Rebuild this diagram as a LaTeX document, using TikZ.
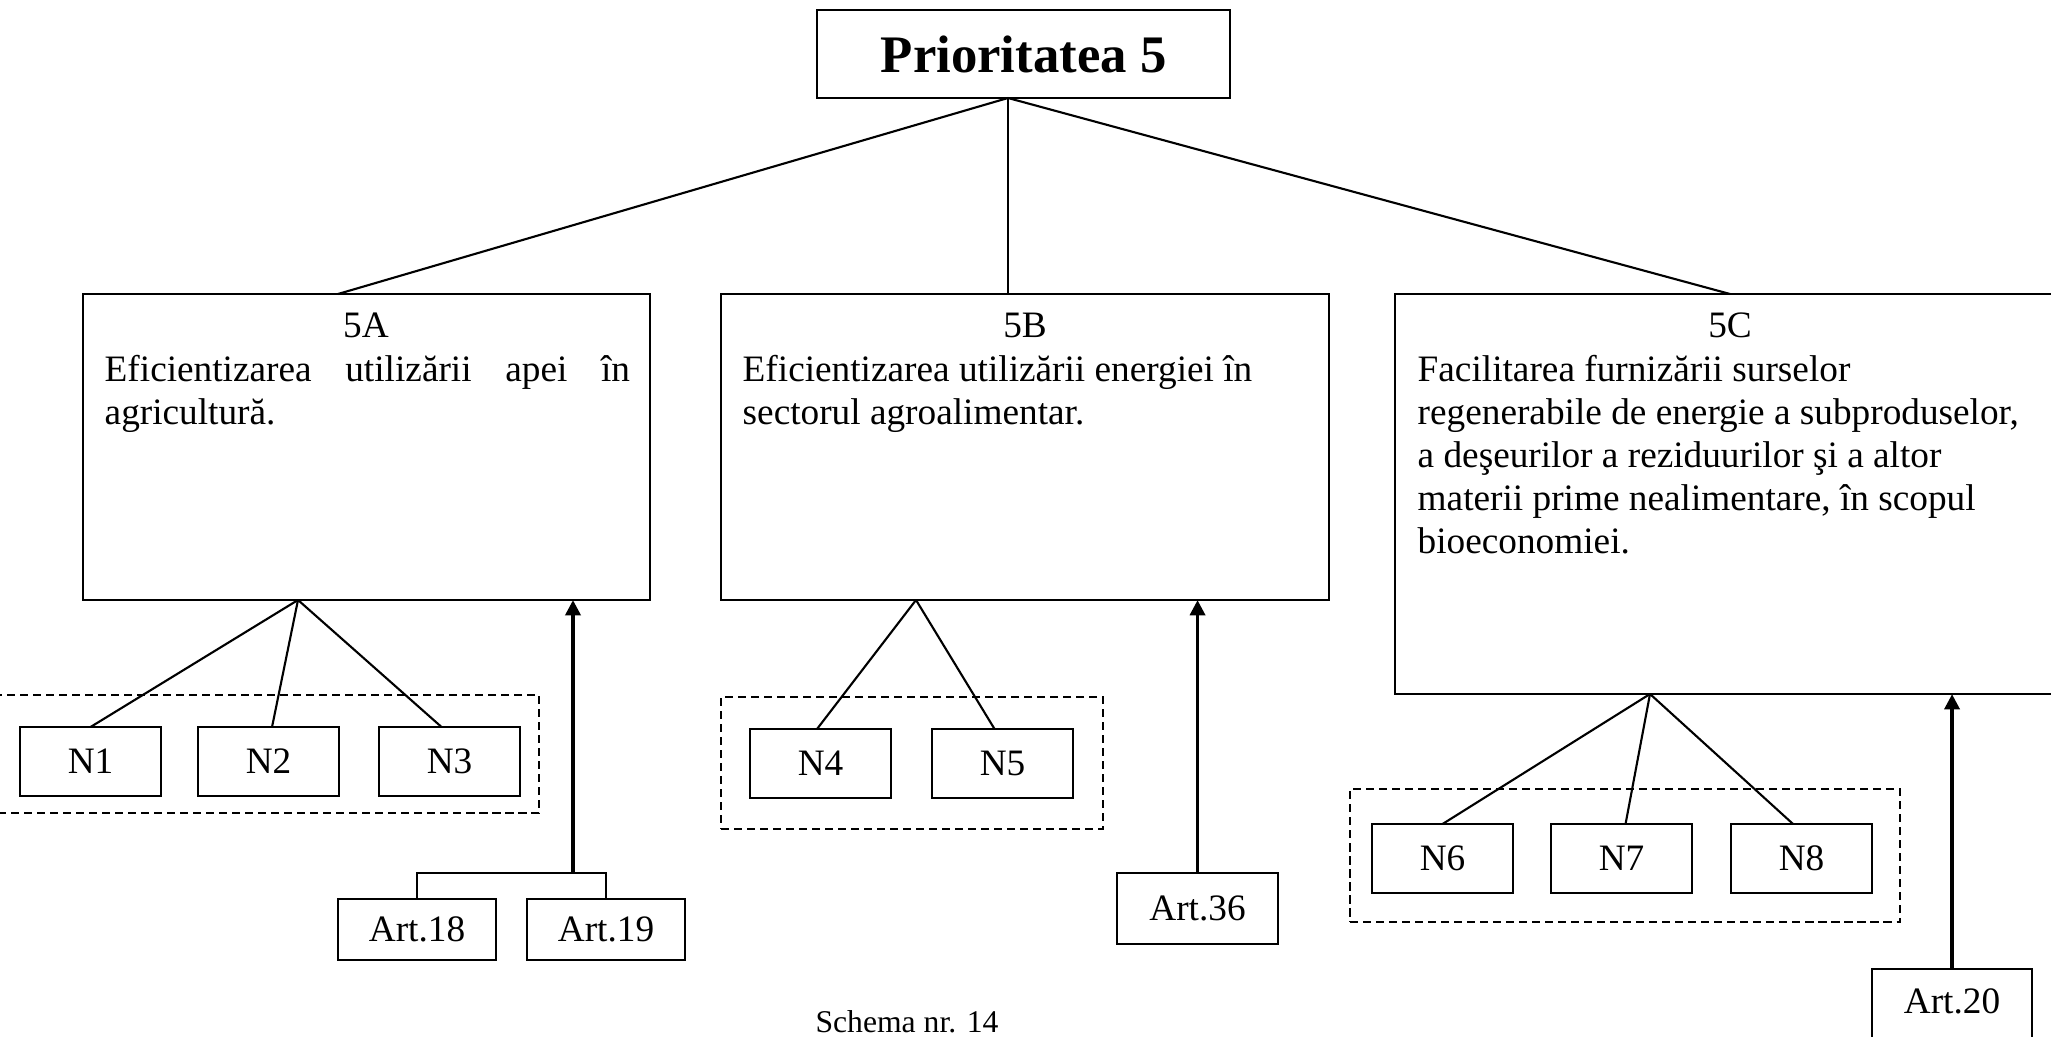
\documentclass[tikz,border=0pt]{standalone}
\usepackage{fontspec}
\setmainfont{Liberation Serif}
\usetikzlibrary{arrows.meta}
\begin{document}
\begin{tikzpicture}[x=0.01cm,y=-0.01cm,
  box/.style={draw,line width=0.6pt,inner sep=0pt,outer sep=0pt,anchor=north west},
  small/.style={box,font=\fontsize{10.6}{12.2}\selectfont},
  grp/.style={draw,dash pattern=on 2.3pt off 1.4pt,line width=0.6pt,inner sep=0pt,outer sep=0pt,anchor=north west},
  tree/.style={line width=0.6pt},
  up/.style={line width=0.9pt,-{Triangle[length=4.3pt,width=4.3pt]}},
  txt/.style={inner sep=0pt,anchor=base west,font=\fontsize{10.6}{12.2}\selectfont},
  ttl/.style={inner sep=0pt,anchor=base,font=\fontsize{10.6}{12.2}\selectfont}]
\useasboundingbox (0,0) rectangle (2051,1037);
\clip (0,0) rectangle (2051,1037);
\fill[white] (0,0) rectangle (2051,1037);

% top
\node[box,minimum width=4.13cm,minimum height=0.88cm,font=\bfseries\fontsize{15}{18}\selectfont] (P) at (817,10) {Prioritatea 5};
\coordinate (Proot) at (1008,98);

% main boxes
\node[box,minimum width=5.67cm,minimum height=3.06cm] (A) at (83,294) {};
\node[box,minimum width=6.08cm,minimum height=3.06cm] (B) at (721,294) {};
\node[box,minimum width=6.70cm,minimum height=4.00cm] (C) at (1395,294) {};

\coordinate (Atop) at (338,294);
\coordinate (Btop) at (1008,294);
\coordinate (Ctop) at (1730,294);
\draw[tree] (Proot) -- (Atop);
\draw[tree] (Proot) -- (Btop);
\draw[tree] (Proot) -- (Ctop);

\node[ttl] (At) at (366,338) {5A};
\node[ttl] (Bt) at (1025,338) {5B};
\node[ttl] (Ct) at (1730,338) {5C};

\node[txt] (Ax) at (104,382) {\vtop{\hbox to 5.25cm{Eficientizarea\hfill utilizării\hfill apei\hfill în}\hbox{agricultură.}}};
\node[txt] (Bx) at (742,382) {\vtop{\hbox{Eficientizarea utilizării energiei în}\hbox{sectorul agroalimentar.}}};
\node[txt] (Cx) at (1417,382) {\vtop{\hbox{Facilitarea furnizării surselor}\hbox{regenerabile de energie a subproduselor,}\hbox{a deşeurilor a reziduurilor şi a altor}\hbox{materii prime nealimentare, în scopul}\hbox{bioeconomiei.}}};

% groups
\node[grp,minimum width=5.41cm,minimum height=1.18cm] (GA) at (-2,695) {};
\node[grp,minimum width=3.82cm,minimum height=1.32cm] (GB) at (721,697) {};
\node[grp,minimum width=5.50cm,minimum height=1.33cm] (GC) at (1350,789) {};

% N boxes
\node[small,minimum width=1.41cm,minimum height=0.69cm] (N1) at (20,727) {N1};
\node[small,minimum width=1.41cm,minimum height=0.69cm] (N2) at (198,727) {N2};
\node[small,minimum width=1.41cm,minimum height=0.69cm] (N3) at (379,727) {N3};
\node[small,minimum width=1.41cm,minimum height=0.69cm] (N4) at (750,729) {N4};
\node[small,minimum width=1.41cm,minimum height=0.69cm] (N5) at (932,729) {N5};
\node[small,minimum width=1.41cm,minimum height=0.69cm] (N6) at (1372,824) {N6};
\node[small,minimum width=1.41cm,minimum height=0.69cm] (N7) at (1551,824) {N7};
\node[small,minimum width=1.41cm,minimum height=0.69cm] (N8) at (1731,824) {N8};

\coordinate (Ar) at (298,600);
\coordinate (Br) at (916,600);
\coordinate (Cr) at (1650,694);
\draw[tree] (Ar) -- (N1.north);
\draw[tree] (Ar) -- ([xshift=0.035cm]N2.north);
\draw[tree] (Ar) -- ([xshift=-0.08cm]N3.north);
\draw[tree] (Br) -- ([xshift=-0.035cm]N4.north);
\draw[tree] (Br) -- ([xshift=-0.08cm]N5.north);
\draw[tree] (Cr) -- (N6.north);
\draw[tree] (Cr) -- ([xshift=0.04cm]N7.north);
\draw[tree] (Cr) -- ([xshift=-0.085cm]N8.north);

% articles
\node[small,minimum width=1.58cm,minimum height=0.61cm] (Art18) at (338,899) {Art.18};
\node[small,minimum width=1.58cm,minimum height=0.61cm] (Art19) at (527,899) {Art.19};
\node[small,minimum width=1.61cm,minimum height=0.71cm] (Art36) at (1117,873) {Art.36};
\node[small,minimum width=1.60cm,minimum height=0.71cm,anchor=north west] (Art20) at (1872,969) {};
\node[ttl] (Art20t) at (1952,1013) {Art.20};

\coordinate (brk) at (573,873);
\draw[tree] (Art18.north) |- (brk) -| (Art19.north);
\draw[up] (brk) -- (brk |- A.south);
\draw[up] (Art36.north) -- (Art36.north |- B.south);
\draw[up] (Art20.north) -- (Art20.north |- C.south);

\node[inner sep=0pt,anchor=base,font=\fontsize{9}{11}\selectfont] (cap) at (907,1032) {Schema nr. 14};
\end{tikzpicture}
\end{document}
